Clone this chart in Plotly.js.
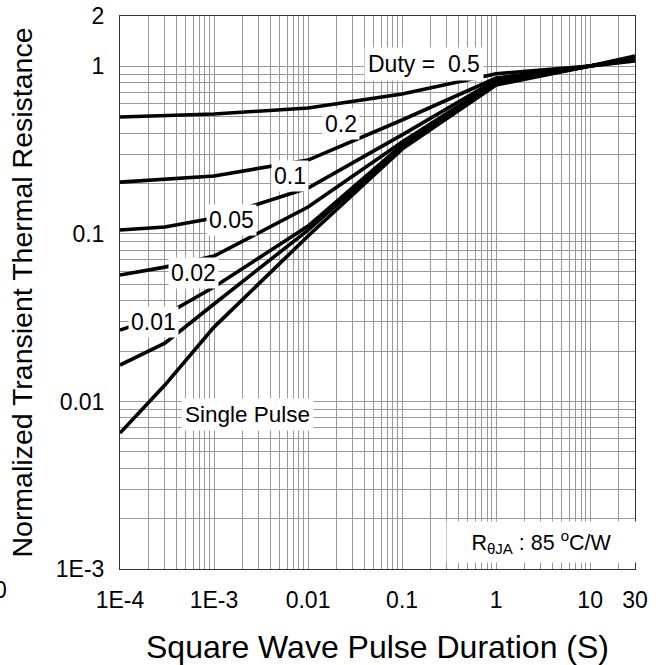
<!DOCTYPE html>
<html>
<head>
<meta charset="utf-8">
<script src="https://cdn.plot.ly/plotly-3.0.1.min.js"></script>
<style>html,body{margin:0;padding:0;background:#fff;}#chart{width:661px;height:665px;}</style>
</head>
<body>
<div id="chart"></div>
<script>
// Pulse durations (s)
const tA = [1e-4, 1e-3, 0.01, 0.1, 1, 10, 30];
const tB = [1e-4, 3e-4, 1e-3, 0.01, 0.1, 1, 10, 30];
// Normalized transient thermal resistance
const duty05 = [0.499, 0.520, 0.565, 0.684, 0.905, 1.006, 1.154];
const duty02 = [0.204, 0.222, 0.276, 0.479, 0.853, 1.006, 1.138];
const duty01 = [0.1055, 0.110, 0.1245, 0.188, 0.390, 0.830, 1.006, 1.123];
const duty005 = [0.0569, 0.0634, 0.0738, 0.1448, 0.354, 0.807, 1.006, 1.107];
const duty002 = [0.0267, 0.0328, 0.0482, 0.1115, 0.340, 0.796, 1.006, 1.092];
const duty001 = [0.0165, 0.0223, 0.0382, 0.1055, 0.330, 0.785, 1.006, 1.092];
const single = [0.00648, 0.01253, 0.0278, 0.0972, 0.321, 0.774, 1.006, 1.077];

const xTickVals = [1e-4, 1e-3, 0.01, 0.1, 1, 10, 30];
const xTickText = ["1E-4", "1E-3", "0.01", "0.1", "1", "10", "30"];
const yTickVals = [1e-3, 0.01, 0.1, 1, 2];
const yTickText = ["1E-3", "0.01", "0.1", "1", "2"];

function minorVals(lo, hi) {
  const out = [];
  for (let d = lo; d <= hi; d++) {
    for (let k = 2; k <= 9; k++) out.push(k * Math.pow(10, d));
  }
  return out;
}

const series = [
  [tA, duty05], [tA, duty02], [tB, duty01], [tB, duty005],
  [tB, duty002], [tB, duty001], [tB, single]
];
const traces = series.map(s => ({
  x: s[0], y: s[1], type: 'scatter', mode: 'lines',
  line: {color: '#000', width: 3.6}, hoverinfo: 'skip', showlegend: false
}));

const FONT = 'Arial, "Liberation Sans", sans-serif';
const gridColor = '#999';

function lbl(text, x, y, extra) {
  return Object.assign({
    text: text, xref: 'paper', yref: 'paper', x: x, y: y,
    xanchor: 'center', yanchor: 'middle', showarrow: false,
    bgcolor: '#fff', borderpad: 2,
    font: {family: FONT, size: 23, color: '#000'}
  }, extra || {});
}

const layout = {
  width: 661, height: 665,
  margin: {l: 120, r: 26, t: 16, b: 96},
  paper_bgcolor: '#fff', plot_bgcolor: '#fff',
  showlegend: false,
  xaxis: {
    type: 'log', range: [-4, Math.log10(30)],
    tickmode: 'array', tickvals: xTickVals, ticktext: xTickText,
    showgrid: true, gridcolor: gridColor, gridwidth: 1,
    minor: {tickmode: 'array', tickvals: minorVals(-4, 1), showgrid: true, gridcolor: gridColor, gridwidth: 1, ticks: ''},
    ticks: '', ticklabelstandoff: 10,
    showline: true, mirror: true, linecolor: '#333', linewidth: 1,
    zeroline: false,
    tickfont: {family: FONT, size: 23, color: '#000'},
    title: {text: 'Square Wave Pulse Duration (S)', font: {family: FONT, size: 32, color: '#000'}, standoff: 28}
  },
  yaxis: {
    type: 'log', range: [-3, Math.log10(2)],
    tickmode: 'array', tickvals: yTickVals, ticktext: yTickText,
    showgrid: true, gridcolor: gridColor, gridwidth: 1,
    minor: {tickmode: 'array', tickvals: minorVals(-3, 0), showgrid: true, gridcolor: gridColor, gridwidth: 1, ticks: ''},
    ticks: '', ticklabelstandoff: 10,
    showline: true, mirror: true, linecolor: '#333', linewidth: 1,
    zeroline: false,
    tickfont: {family: FONT, size: 23, color: '#000'},
    title: {text: 'Normalized Transient Thermal Resistance', font: {family: FONT, size: 28.5, color: '#000'}, standoff: 14}
  },
  annotations: [
    lbl('Duty = \u00a00.5', 0.590, 0.913, {borderpad: 3, font: {family: FONT, size: 23, color: '#000'}}),
    lbl('0.2', 0.429, 0.805),
    lbl('0.1', 0.330, 0.711),
    lbl('0.05', 0.2165, 0.631),
    lbl('0.02', 0.1427, 0.535),
    lbl('0.01', 0.065, 0.4467),
    lbl('Single Pulse', 0.2485, 0.2785, {borderpad: 3, font: {family: FONT, size: 22.5, color: '#000'}}),
    lbl('R<sub>θJA</sub> : 85 <sup>o</sup>C/W', 0.8175, 0.0497, {width: 185, height: 36, font: {family: FONT, size: 21.5, color: '#000'}}),
    {text: '0', xref: 'paper', yref: 'paper', x: -0.232, y: -0.038, xanchor: 'center', yanchor: 'middle',
     showarrow: false, font: {family: FONT, size: 23, color: '#000'}}
  ]
};

Plotly.newPlot('chart', traces, layout, {staticPlot: true, displayModeBar: false});
</script>
</body>
</html>
